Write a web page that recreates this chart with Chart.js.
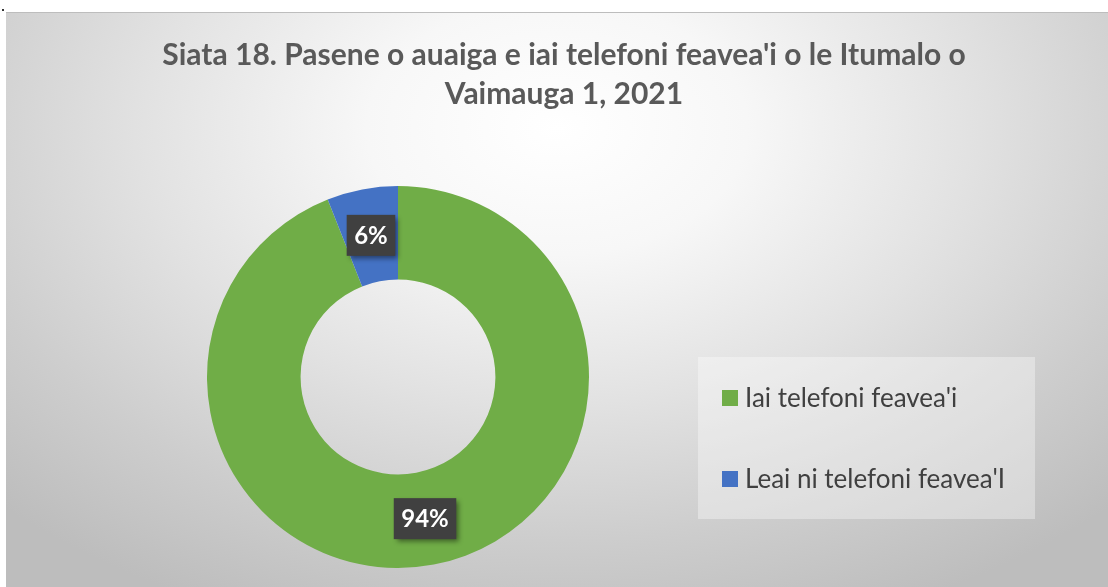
<!DOCTYPE html>
<html lang="en">
<head>
    <meta charset="UTF-8">
    <title>Siata 18</title>
    <script src="https://cdn.jsdelivr.net/npm/chart.js"></script>
    <style>
        body { margin: 0; background: #fff; }
        .chart-box {
            position: absolute;
            left: 6px;
            top: 12px;
            width: 1102px;
            height: 575px;
            border-top: 1px solid #bdbdbd;
            background: radial-gradient(ellipse 72% 92% at 50% 20%, #ffffff 0%, #f7f7f7 24%, #e2e2e2 52%, #cdcdcd 78%, #bdbdbd 100%);
        }
        .dot { position: absolute; left: 2px; top: 9px; width: 2px; height: 2px; background: #333; }
    </style>
</head>
<body>
    <div class="dot"></div>
    <div class="chart-box">
        <canvas id="phoneChart" width="1102" height="575"></canvas>
    </div>

<script>
// data
const titleLines = ["Siata 18. Pasene o auaiga e iai telefoni feavea'i o le Itumalo o", "Vaimauga 1, 2021"];
const categories = ["Iai telefoni feavea'i", "Leai ni telefoni feavea'I"];
const percents = [94, 6];
const sliceColors = ['#70ad47', '#4472c4'];

// draws title, legend and the dark value labels
const extras = {
    id: 'extras',
    afterDraw(chart) {
        const ctx = chart.ctx;
        ctx.save();

        // title
        ctx.fillStyle = '#595959';
        ctx.font = 'bold 30px Lato';
        ctx.textAlign = 'center';
        ctx.textBaseline = 'alphabetic';
        ctx.fillText(titleLines[0], 558, 52);
        ctx.fillText(titleLines[1], 558, 91);

        // legend box
        ctx.fillStyle = 'rgba(255,255,255,0.35)';
        ctx.fillRect(692, 344, 337, 162);
        ctx.textAlign = 'left';
        ctx.font = '26px Lato';
        categories.forEach((c, i) => {
            const y = 377 + i * 81;
            ctx.fillStyle = sliceColors[i];
            ctx.fillRect(716, y, 16, 16);
            ctx.fillStyle = '#404040';
            ctx.fillText(c, 739, y + 17);
        });

        // value labels
        const meta = chart.getDatasetMeta(0);
        ctx.font = 'bold 24px Lato';
        ctx.textAlign = 'center';
        ctx.textBaseline = 'middle';
        meta.data.forEach((arc, i) => {
            const p = arc.tooltipPosition();
            const txt = percents[i] + '%';
            const w = ctx.measureText(txt).width + 15;
            const h = 41;
            ctx.save();
            ctx.shadowColor = 'rgba(0,0,0,0.45)';
            ctx.shadowBlur = 5;
            ctx.shadowOffsetX = 3;
            ctx.shadowOffsetY = 3;
            ctx.fillStyle = '#404040';
            ctx.fillRect(p.x - w / 2, p.y - h / 2, w, h);
            ctx.restore();
            ctx.fillStyle = '#ffffff';
            ctx.fillText(txt, p.x, p.y + 1);
        });
        ctx.restore();
    }
};

const ctx = document.getElementById('phoneChart').getContext('2d');
const phoneChart = new Chart(ctx, {
    type: 'doughnut',
    data: {
        labels: categories,
        datasets: [{
            data: percents,
            backgroundColor: sliceColors,
            borderWidth: 0,
            hoverOffset: 0
        }]
    },
    options: {
        responsive: false,
        animation: false,
        events: [],
        cutout: '51%',
        layout: {
            padding: { left: 201, top: 173, right: 519, bottom: 20 }
        },
        plugins: {
            legend: { display: false },
            title: { display: false },
            tooltip: { enabled: false }
        }
    },
    plugins: [extras]
});
</script>
</body>
</html>
